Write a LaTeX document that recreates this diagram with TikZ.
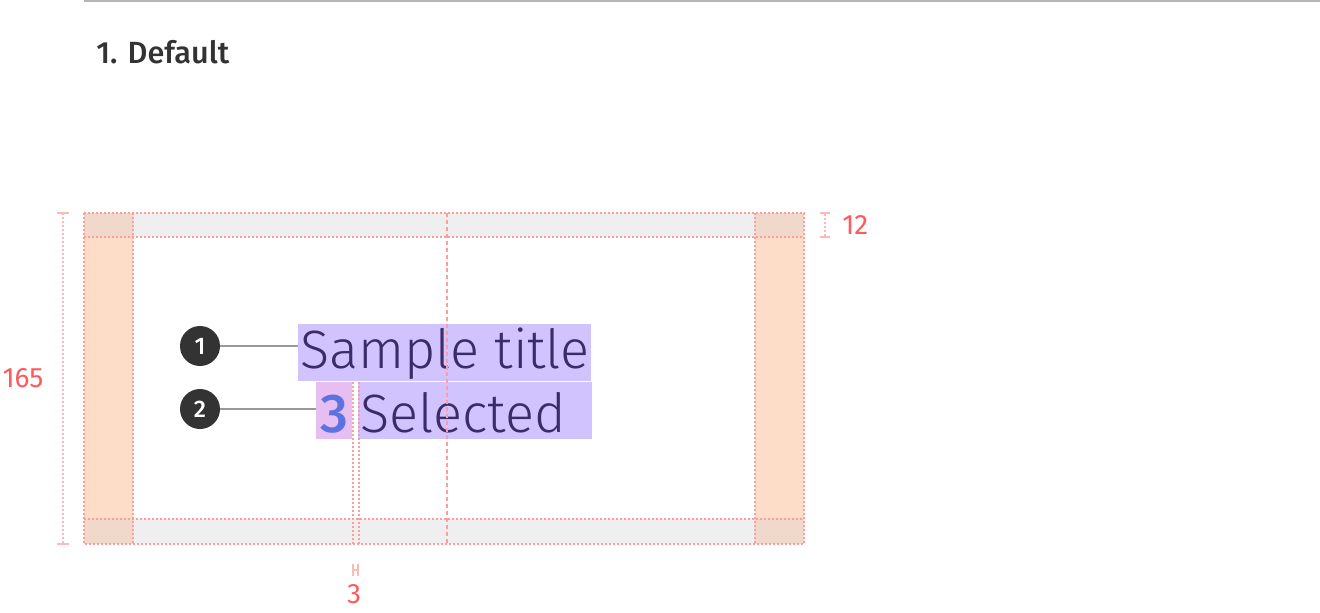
\documentclass[tikz,border=0pt]{standalone}
\usepackage{fontspec}
\setmainfont{Fira Sans}
\newfontfamily\lightfont{Fira Sans Light}
\newfontfamily\medfont{Fira Sans Medium}
\definecolor{dimred}{HTML}{FF9C9C}
\definecolor{dimpale}{HTML}{FFB8B8}
\definecolor{labred}{HTML}{FF5A5A}
\definecolor{colorange}{HTML}{FDDCC8}
\definecolor{bandgray}{HTML}{EFEFEF}
\definecolor{overlap}{HTML}{F0D8CA}
\definecolor{hlpurple}{HTML}{D0C3FE}
\definecolor{hlpink}{HTML}{E6BEF2}
\definecolor{txtpurple}{HTML}{3A2C6A}
\definecolor{numblue}{HTML}{5C72E0}
\definecolor{markgray}{HTML}{333333}
\definecolor{leadgray}{HTML}{999999}
\definecolor{rulegray}{HTML}{B5B5B5}
\tikzset{
  dotline/.style={draw=dimred, line width=1.3pt, dash pattern=on 1.5pt off 1.5pt},
  paledot/.style={draw=dimpale, line width=1.3pt, dash pattern=on 1.5pt off 1.5pt},
  dashline/.style={draw=dimred, line width=1.3pt, dash pattern=on 3pt off 2.2pt},
  capline/.style={draw=dimpale, line width=1.1pt},
  hlbox/.style={inner sep=0pt, fill=hlpurple},
  marker/.style={circle, fill=markgray, minimum size=30pt, inner sep=0pt, text=white, font=\medfont\fontsize{18}{18}\selectfont},
  leader/.style={draw=leadgray, line width=1.4pt},
  dimlabel/.style={text=labred, inner sep=0pt, font=\fontsize{21}{21}\selectfont},
  bigtext/.style={text=txtpurple, inner sep=0pt, font=\lightfont\fontsize{40.5}{40.5}\selectfont}
}
\begin{document}
\begin{tikzpicture}[x=0.75pt, y=-0.75pt]
\useasboundingbox (0,0) rectangle (1320,612);
% top rule
\draw[draw=rulegray, line width=1.5pt] (84,1) -- (1320,1);
\node[anchor=base west, inner sep=0pt, text=markgray, font=\medfont\fontsize{23}{23}\selectfont] (title) at (96,63) {1. Default};
% fills
\fill[bandgray] (84,213) rectangle (804,237);
\fill[bandgray] (84,519) rectangle (804,544);
\fill[colorange] (84,237) rectangle (133,519);
\fill[colorange] (755,237) rectangle (804,519);
\fill[overlap] (84,213) rectangle (133,237);
\fill[overlap] (755,213) rectangle (804,237);
\fill[overlap] (84,519) rectangle (133,544);
\fill[overlap] (755,519) rectangle (804,544);
% highlight boxes
\node[hlbox, minimum width=219.75pt, minimum height=43pt] (b1) at (444.5,352.8) {};
\node[hlbox, minimum width=175.5pt, minimum height=43pt] (b2) at (475,410.5) {};
\node[hlbox, fill=hlpink, minimum width=27pt, minimum height=43pt] (b3) at (334,410.5) {};
% texts
\node[bigtext, anchor=base west] (t1) at (300,368) {Sample title};
\node[bigtext, anchor=base west] (t2) at (360,432) {Selected};
\node[anchor=base, inner sep=0pt, text=numblue, font=\medfont\fontsize{41}{41}\selectfont] (t3) at (334,432) {3};
% markers
\node[marker] (m1) at (200,346) {1};
\node[marker] (m2) at (200,409) {2};
\draw[leader] (m1.east) -- (m1.east -| b1.west);
\draw[leader] (m2.east) -- (m2.east -| b3.west);
% guide lines
\draw[dotline] (84,213) rectangle (804,544);
\draw[dotline] (84,237) -- (804,237);
\draw[dotline] (84,519) -- (804,519);
\draw[dotline] (133,213) -- (133,544);
\draw[dotline] (755,213) -- (755,544);
\draw[dotline] (353,382) -- (353,544);
\draw[dotline] (359,382) -- (359,544);
\draw[dashline] (447,213) -- (447,544);
% dimension 165
\draw[paledot] (63,213) -- (63,544);
\draw[capline] (57,213) -- (69,213);
\draw[capline] (57,544) -- (69,544);
\node[dimlabel] (l165) at (23,378) {165};
% dimension 12
\draw[paledot] (825,214) -- (825,236);
\draw[capline] (820,213) -- (830,213);
\draw[capline] (820,237) -- (830,237);
\node[dimlabel, anchor=west] (l12) at (842,225) {12};
% dimension 3
\draw[capline] (353,564) -- (353,576);
\draw[capline] (358,564) -- (358,576);
\draw[capline] (353,570) -- (358,570);
\node[dimlabel] (l3) at (354,594) {3};
\end{tikzpicture}
\end{document}
